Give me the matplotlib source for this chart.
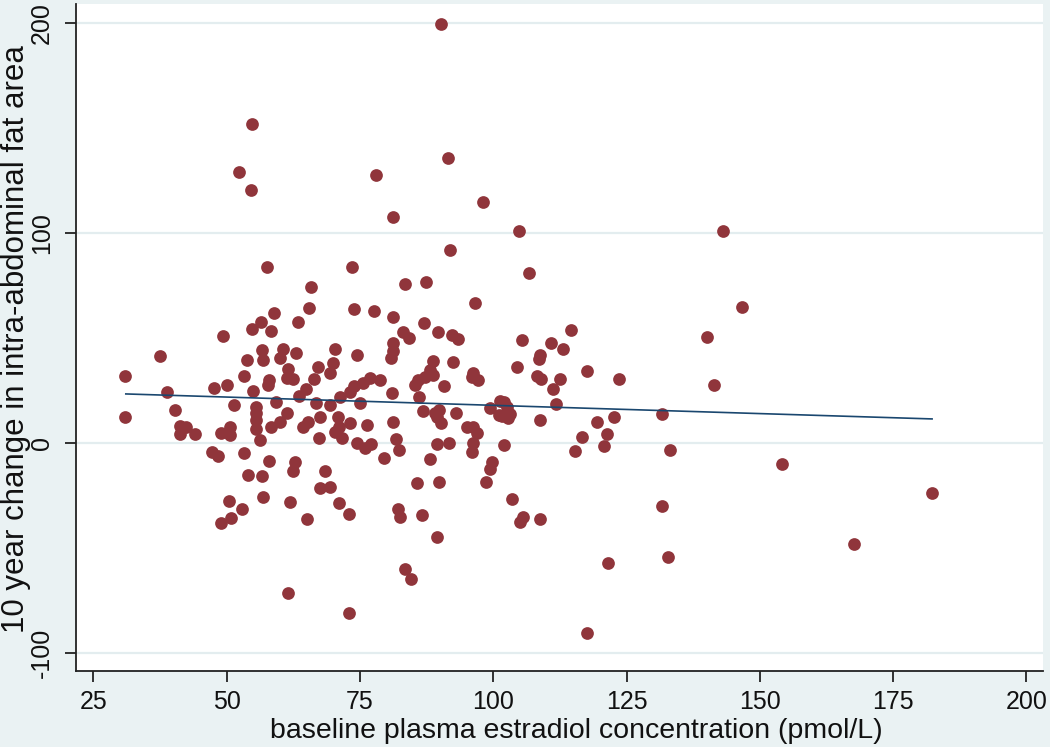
import matplotlib
matplotlib.use("Agg")
import matplotlib.pyplot as plt
import numpy as np

plt.rcParams['font.family'] = ['Liberation Sans', 'DejaVu Sans']
plt.rcParams['axes.unicode_minus'] = False

# baseline plasma estradiol (pmol/L), 10-year change in intra-abdominal fat area
estradiol = [
    30.9, 30.9, 37.6, 38.9, 40.3, 41.3, 42.4, 41.3, 44.1, 47.6, 48.9, 47.2, 48.3, 49.4, 48.9,
    50.0, 50.6, 50.6, 51.4, 50.5, 52.8, 50.9, 52.4, 54.5, 54.7, 53.3, 53.9, 54.8, 53.3, 54.1,
    55.0, 56.5, 56.7, 56.9, 55.5, 55.6, 55.5, 55.5, 56.3, 56.6, 56.9, 57.6, 58.3, 58.9, 58.0,
    57.7, 59.3, 58.3, 58.0,
    60.5, 60.0, 60.0, 61.4, 61.6, 61.3, 62.4, 63.1, 63.4, 63.6, 64.8, 64.3, 65.3, 62.8, 62.4,
    61.9, 61.6, 65.0, 65.4, 65.9, 66.3, 66.8, 67.2, 67.6, 67.4, 68.5, 67.5, 69.4, 69.4, 70.0,
    69.3, 70.4,
    70.9, 70.3, 71.6, 71.3, 73.2, 71.1, 73.1, 71.1, 73.0, 73.0, 73.6, 73.8, 74.5, 73.8, 75.6,
    76.9, 78.8, 75.0, 76.3, 74.4, 75.9, 77.0, 77.6, 78.1, 79.6,
    81.3, 81.3, 81.3, 81.3, 80.8, 81.1, 81.3, 81.8, 82.4, 82.2, 82.6, 83.4, 84.6, 83.4, 83.1,
    84.3, 85.3, 85.9, 86.1, 85.8, 86.7, 87.4, 87.0, 87.2, 86.9, 88.1, 88.8, 88.8, 88.1, 89.1,
    89.9, 89.4, 89.7, 89.4, 89.9, 89.5,
    90.3, 90.8, 90.2, 91.6, 91.9, 92.2, 93.4, 92.5, 91.7, 93.1, 95.0, 96.3, 96.9, 96.3, 96.1,
    96.6, 96.3, 97.2, 96.0, 98.1, 99.7, 99.4, 98.6, 99.4,
    101.3, 101.1, 102.0, 102.5, 103.1, 102.8, 101.6, 102.0, 103.6, 104.9, 104.5, 105.4, 105.6,
    105.0, 106.8, 108.8, 108.6, 108.3, 109.0, 108.8, 108.8,
    110.8, 113.1, 114.6, 112.6, 111.3, 111.7, 117.6, 116.7, 115.3, 117.6, 119.5, 121.4, 120.8,
    122.7, 123.6, 121.5, 131.7, 133.2, 131.7, 132.7, 140.0, 141.4, 143.1, 146.6, 154.2, 167.7,
    182.3,
]
fat_change = [
    31.8, 12.4, 41.3, 24.0, 15.6, 8.0, 7.6, 4.1, 4.1, 26.2, 4.5, -4.3, -6.3, 51.0, -38.4,
    27.5, 7.3, 3.7, 18.0, -27.6, -31.6, -35.7, 129.0, 120.5, 151.6, 31.6, 39.2, 54.1, -4.8, -15.4,
    24.8, 57.3, 44.1, 39.4, 17.1, 14.0, 10.8, 6.4, 1.3, -15.9, -25.7, 83.8, 53.3, 61.6, 29.9,
    27.5, 19.2, 7.3, -8.7,
    44.5, 40.2, 10.0, 14.3, 35.0, 30.7, 30.2, 42.6, 57.6, 22.2, 25.6, 7.6, 10.0, -9.0, -13.5,
    -28.1, -71.4, -36.5, 64.0, 74.2, 30.2, 18.8, 35.9, 12.1, 2.4, -13.3, -21.7, -21.0, 33.0, 37.8,
    18.0, 44.6,
    12.1, 5.2, 2.4, 21.6, 24.3, 7.6, 9.2, -28.9, -34.1, -81.0, 83.8, 63.5, 41.8, 27.0, 28.3,
    30.7, 29.9, 18.8, 8.4, -0.3, -2.7, -0.6, 62.9, 127.3, -7.4,
    107.5, 59.7, 47.6, 43.8, 40.2, 23.5, 10.0, 1.6, -3.5, -31.7, -35.2, -60.3, -65.1, 75.6, 52.9,
    49.7, 27.5, 29.9, 21.9, -19.0, -34.3, 76.7, 57.1, 31.4, 15.2, 34.6, 32.2, 39.0, -7.9, 14.3,
    15.6, 12.1, 52.9, -44.8, -18.7, -0.6,
    9.5, 27.0, 199.5, 135.4, 91.8, 51.3, 49.2, 38.6, 0.0, 14.3, 7.6, 7.6, 4.5, -0.3, -4.3,
    66.7, 33.0, 29.9, 31.1, 114.5, -9.0, -12.7, -18.6, 16.7,
    20.0, 13.2, 19.5, 17.1, 13.7, 11.6, 12.7, -1.0, -26.7, 100.8, 35.9, 48.9, -35.5,
    -37.9, 80.8, 41.8, 39.9, 31.9, 30.3, 10.8, -36.5,
    47.3, 44.5, 53.7, 30.2, 25.6, 18.4, 34.3, 2.9, -3.8, -90.5, 9.7, 4.1, -1.4,
    12.4, 30.5, -57.1, 13.8, -3.6, -30.1, -54.5, 50.3, 27.5, 100.8, 64.5, -10.1, -48.4,
    -23.8,
]

# fitted regression line
fit_x = [31.1, 182.3]
fit_y = [23.2, 11.3]

x_ticks = [25, 50, 75, 100, 125, 150, 175, 200]
y_ticks = [-100, 0, 100, 200]

BG = '#EAF2F3'
GRID = '#E3EDEF'
MARKER = '#90353B'
LINE = '#1A476F'

W, H = 1050, 747
fig = plt.figure(figsize=(W / 100, H / 100), dpi=100, facecolor=BG)
ax_l, ax_r, ax_t, ax_b = 76, 1043, 4, 670.7
ax = fig.add_axes([ax_l / W, 1 - ax_b / H, (ax_r - ax_l) / W, (ax_b - ax_t) / H])
ax.set_facecolor('white')

ax.set_xlim(21.76, 203.1)
ax.set_ylim(-108.6, 208.9)

ax.set_yticks(y_ticks)
ax.set_xticks(x_ticks)
ax.yaxis.grid(True, color=GRID, linewidth=1.6)
ax.xaxis.grid(False)
ax.set_axisbelow(True)

ax.scatter(estradiol, fat_change, s=84, color=MARKER, linewidths=0, zorder=3)
ax.plot(fit_x, fit_y, color=LINE, linewidth=1.2, zorder=4)

for side in ['top', 'right']:
    ax.spines[side].set_visible(False)
for side in ['left', 'bottom']:
    ax.spines[side].set_color('#222222')
    ax.spines[side].set_linewidth(1.3)

ax.tick_params(axis='both', length=8, width=1.3, color='#222222', labelsize=18,
               labelcolor='#111111')
ax.tick_params(axis='x', pad=6)
ax.tick_params(axis='y', pad=8)
for lab in ax.get_yticklabels():
    lab.set_rotation(90)
    lab.set_va('center')

ax.set_xlabel('baseline plasma estradiol concentration (pmol/L)', fontsize=20.5,
              color='#111111')
ax.set_ylabel('10 year change in intra-abdominal fat area', fontsize=22.5,
              color='#111111')
axw, axh = ax_r - ax_l, ax_b - ax_t
ax.xaxis.set_label_coords((576.5 - ax_l) / axw, -(718 - ax_b) / axh)
ax.yaxis.set_label_coords(-(ax_l - 31) / axw, (ax_b - 339) / axh)

fig.savefig('out.png', dpi=100, facecolor=BG)
